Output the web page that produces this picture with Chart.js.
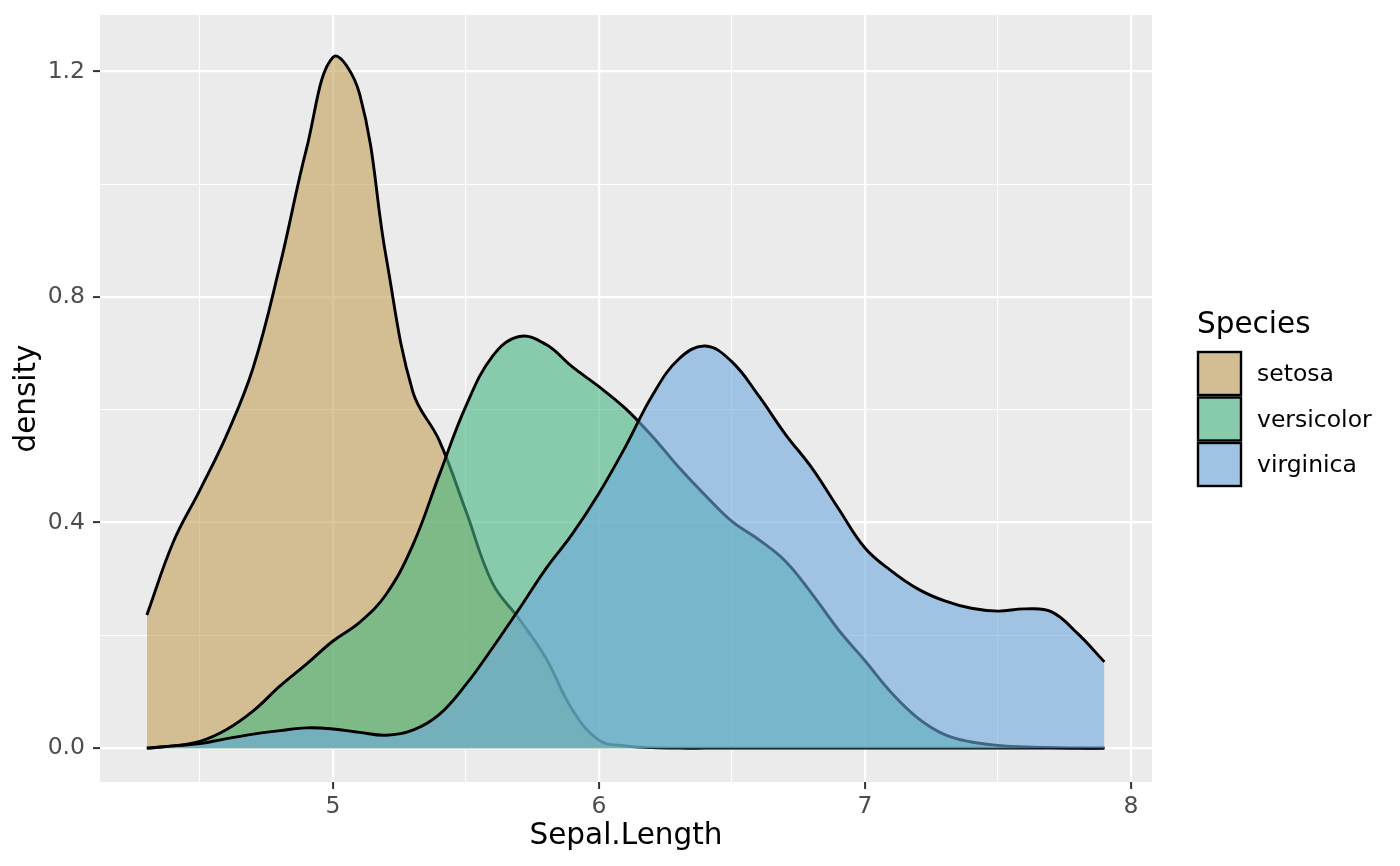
<!DOCTYPE html>
<html>
<head>
<meta charset="utf-8">
<title>Sepal.Length density</title>
<script src="https://cdn.jsdelivr.net/npm/chart.js@4.4.1/dist/chart.umd.min.js"></script>
<style>
    html, body { margin: 0; padding: 0; background: #FFFFFF; }
    #grafico-densidade { display: block; }
</style>
</head>
<body>
<canvas id="grafico-densidade" width="1400" height="866"></canvas>
<script>
// valores do eixo x (Sepal.Length)
var sepalLength = [4.3, 4.4, 4.5, 4.6, 4.7, 4.8, 4.9, 5.0, 5.1, 5.2, 5.3, 5.4, 5.5, 5.6, 5.7, 5.8, 5.9,
    6.0, 6.1, 6.2, 6.3, 6.4, 6.5, 6.6, 6.7, 6.8, 6.9, 7.0, 7.1, 7.2, 7.3, 7.4, 7.5, 7.6, 7.7, 7.8, 7.9];

// densidade, uma lista por espécie
var setosa = [0.236, 0.366, 0.458, 0.555, 0.675, 0.855, 1.062, 1.225, 1.16, 0.87, 0.632, 0.545, 0.42,
    0.292, 0.229, 0.16, 0.068, 0.014, 0.004, 0.001, 0, 0, 0, 0, 0, 0, 0, 0, 0, 0, 0, 0, 0, 0, 0, 0, 0];
var versicolor = [0, 0.004, 0.012, 0.033, 0.066, 0.11, 0.149, 0.19, 0.223, 0.273, 0.36, 0.485, 0.607,
    0.695, 0.73, 0.716, 0.676, 0.641, 0.602, 0.553, 0.498, 0.448, 0.402, 0.37, 0.332, 0.274, 0.21,
    0.155, 0.098, 0.053, 0.024, 0.011, 0.005, 0.002, 0.001, 0, 0];
var virginica = [0, 0.004, 0.008, 0.017, 0.025, 0.031, 0.036, 0.034, 0.028, 0.023, 0.032, 0.06, 0.113,
    0.178, 0.247, 0.318, 0.38, 0.452, 0.535, 0.625, 0.69, 0.713, 0.685, 0.625, 0.557, 0.497, 0.425,
    0.355, 0.314, 0.282, 0.261, 0.248, 0.243, 0.247, 0.242, 0.203, 0.153];

var especies = ['setosa', 'versicolor', 'virginica'];
var coresFill = ['rgba(193, 160, 87, 0.6)', 'rgba(70, 182, 130, 0.6)', 'rgba(110, 168, 223, 0.6)'];

// ticks e linhas de grade
var xTicks = [4.5, 5, 5.5, 6, 6.5, 7, 7.5, 8];
var xTicksMaiores = [5, 6, 7, 8];
var yTicks = [0, 0.2, 0.4, 0.6, 0.8, 1.0, 1.2];
var yTicksMaiores = [0, 0.4, 0.8, 1.2];

var fonte = 'DejaVu Sans';
Chart.defaults.font.family = fonte;

function ehMaior(lista, valor) {
    return lista.some(function (m) { return Math.abs(m - valor) < 1e-6; });
}

function pontos(valores) {
    return sepalLength.map(function (x, i) { return { x: x, y: valores[i] }; });
}

// fundo cinza do painel + legenda desenhada à mão
var painelPlugin = {
    id: 'painel',
    beforeDraw: function (chart) {
        var a = chart.chartArea;
        var ctx = chart.ctx;
        ctx.save();
        ctx.fillStyle = '#EBEBEB';
        ctx.fillRect(a.left, a.top, a.right - a.left, a.bottom - a.top);
        ctx.restore();
    },
    afterDraw: function (chart) {
        var ctx = chart.ctx;
        ctx.save();
        ctx.fillStyle = '#000000';
        ctx.font = '29.5px "' + fonte + '"';
        ctx.textAlign = 'left';
        ctx.textBaseline = 'alphabetic';
        ctx.fillText('Species', 1197, 333);

        ctx.font = '23.5px "' + fonte + '"';
        ctx.textBaseline = 'middle';
        for (var i = 0; i < especies.length; i++) {
            var y = 352 + i * 45.5;
            ctx.fillStyle = '#EBEBEB';
            ctx.fillRect(1198, y, 43, 43);
            ctx.fillStyle = coresFill[i];
            ctx.fillRect(1198, y, 43, 43);
            ctx.lineWidth = 2.4;
            ctx.strokeStyle = '#000000';
            ctx.strokeRect(1198, y, 43, 43);
            ctx.fillStyle = '#000000';
            ctx.fillText(especies[i], 1257, y + 23);
        }
        ctx.restore();
    }
};

var datasets = [setosa, versicolor, virginica].map(function (valores, i) {
    return {
        label: especies[i],
        data: pontos(valores),
        backgroundColor: coresFill[i],
        borderColor: '#000000',
        borderWidth: 2.9,
        fill: 'origin',
        pointRadius: 0,
        tension: 0.4,
        order: 3 - i
    };
});

var ctx = document.getElementById('grafico-densidade').getContext('2d');
var graficoDensidade = new Chart(ctx, {
    type: 'line',
    data: { datasets: datasets },
    plugins: [painelPlugin],
    options: {
        responsive: false,
        animation: false,
        layout: { padding: { top: 15, right: 248, left: 0, bottom: 0 } },
        plugins: {
            legend: { display: false },
            tooltip: { enabled: false }
        },
        scales: {
            x: {
                type: 'linear',
                min: 4.124,
                max: 8.079,
                afterFit: function (scale) {
                    scale.height = 84;
                    scale.paddingLeft = 0;
                    scale.paddingRight = 0;
                },
                afterBuildTicks: function (scale) {
                    scale.ticks = xTicks.map(function (v) { return { value: v }; });
                },
                border: { display: false },
                grid: {
                    color: '#FFFFFF',
                    lineWidth: function (c) { return c.tick && ehMaior(xTicksMaiores, c.tick.value) ? 2.2 : 1.1; },
                    tickLength: 7,
                    tickWidth: 2,
                    tickColor: function (c) { return c.tick && ehMaior(xTicksMaiores, c.tick.value) ? '#333333' : 'rgba(0,0,0,0)'; }
                },
                ticks: {
                    autoSkip: false,
                    maxRotation: 0,
                    padding: 4,
                    color: '#4D4D4D',
                    font: { size: 23.5 },
                    callback: function (v) { return ehMaior(xTicksMaiores, v) ? String(v) : ''; }
                },
                title: {
                    display: true,
                    text: 'Sepal.Length',
                    color: '#000000',
                    font: { size: 29.5 },
                    padding: { top: 0, bottom: 12 }
                }
            },
            y: {
                type: 'linear',
                min: -0.06,
                max: 1.3,
                afterFit: function (scale) {
                    scale.width = 100;
                    scale.paddingTop = 0;
                    scale.paddingBottom = 0;
                },
                afterBuildTicks: function (scale) {
                    scale.ticks = yTicks.map(function (v) { return { value: v }; });
                },
                border: { display: false },
                grid: {
                    color: '#FFFFFF',
                    lineWidth: function (c) { return c.tick && ehMaior(yTicksMaiores, c.tick.value) ? 2.2 : 1.1; },
                    tickLength: 7,
                    tickWidth: 2,
                    tickColor: function (c) { return c.tick && ehMaior(yTicksMaiores, c.tick.value) ? '#333333' : 'rgba(0,0,0,0)'; }
                },
                ticks: {
                    autoSkip: false,
                    padding: 8,
                    color: '#4D4D4D',
                    font: { size: 23.5 },
                    callback: function (v) { return ehMaior(yTicksMaiores, v) ? v.toFixed(1) : ''; }
                },
                title: {
                    display: true,
                    text: 'density',
                    color: '#000000',
                    font: { size: 29.5 },
                    padding: { top: 10, bottom: 0 }
                }
            }
        }
    }
});
</script>
</body>
</html>
